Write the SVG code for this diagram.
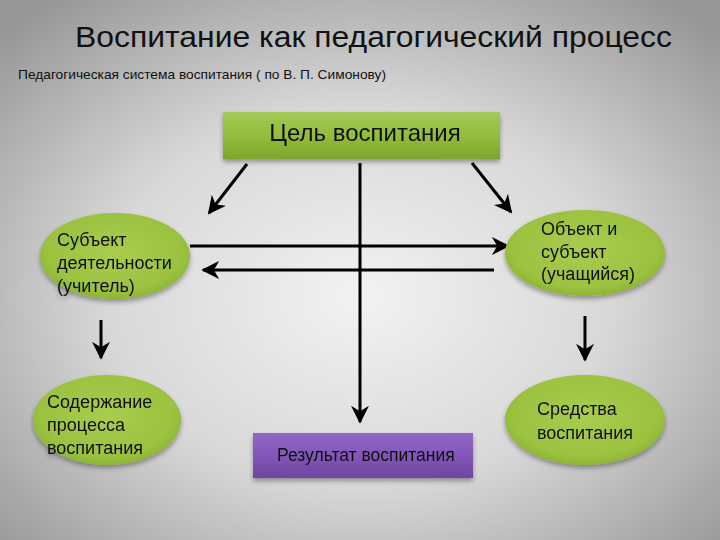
<svg xmlns="http://www.w3.org/2000/svg" width="720" height="540" viewBox="0 0 720 540">
<defs>
<radialGradient id="bg" cx="50%" cy="55%" r="70%">
<stop offset="0" stop-color="#f2f2f2"/>
<stop offset="0.5" stop-color="#d8d8d8"/>
<stop offset="1" stop-color="#969696"/>
</radialGradient>
<radialGradient id="ell" cx="50%" cy="45%" r="60%">
<stop offset="0" stop-color="#a9cc4e"/>
<stop offset="0.75" stop-color="#9cc241"/>
<stop offset="1" stop-color="#86ad2c"/>
</radialGradient>
<linearGradient id="gr" x1="0" y1="0" x2="0" y2="1">
<stop offset="0" stop-color="#a3c956"/>
<stop offset="0.5" stop-color="#93bd3c"/>
<stop offset="1" stop-color="#7ea52c"/>
</linearGradient>
<linearGradient id="pu" x1="0" y1="0" x2="0" y2="1">
<stop offset="0" stop-color="#9168c6"/>
<stop offset="0.5" stop-color="#8256b8"/>
<stop offset="1" stop-color="#6e45a0"/>
</linearGradient>
<filter id="sh" x="-20%" y="-20%" width="140%" height="150%">
<feGaussianBlur in="SourceAlpha" stdDeviation="2.5"/>
<feOffset dx="0" dy="3"/>
<feComponentTransfer><feFuncA type="linear" slope="0.35"/></feComponentTransfer>
<feMerge><feMergeNode/><feMergeNode in="SourceGraphic"/></feMerge>
</filter>
<marker id="ah" viewBox="0 0 10 10" refX="9" refY="5" markerWidth="6" markerHeight="6" markerUnits="strokeWidth" orient="auto">
<path d="M0,0 L10,5 L0,10 L3,5 Z" fill="#000"/>
</marker>
<style>
.t{font-family:"Liberation Sans",Arial,sans-serif;fill:#111}
.ar{stroke:#000;stroke-width:3;fill:none;marker-end:url(#ah)}
</style>
</defs>
<rect width="720" height="540" fill="url(#bg)"/>
<text class="t" x="75" y="47" font-size="30" textLength="597" lengthAdjust="spacingAndGlyphs">Воспитание как педагогический процесс</text>
<text class="t" x="18" y="79" font-size="13" textLength="368" lengthAdjust="spacingAndGlyphs">Педагогическая система воспитания ( по В. П. Симонову)</text>

<g id="connectors">
<line class="ar" x1="247" y1="164" x2="209" y2="213"/>
<line class="ar" x1="472" y1="163" x2="511" y2="212"/>
<line class="ar" x1="360" y1="163" x2="360" y2="422"/>
<line class="ar" x1="190" y1="246" x2="508" y2="246"/>
<line class="ar" x1="494" y1="270" x2="203" y2="270"/>
<line class="ar" x1="101" y1="320" x2="101" y2="358"/>
<line class="ar" x1="585" y1="316" x2="585" y2="360"/>
</g>

<g id="goal" filter="url(#sh)">
<rect x="223" y="112" width="277" height="47" fill="url(#gr)"/>
<text class="t" x="365" y="141" font-size="24" text-anchor="middle">Цель воспитания</text>
</g>

<g id="subject" filter="url(#sh)">
<ellipse cx="115" cy="256" rx="75" ry="43" fill="url(#ell)"/>
<text class="t" font-size="18"><tspan x="57" y="246">Субъект</tspan><tspan x="57" y="269">деятельности</tspan><tspan x="57" y="292">(учитель)</tspan></text>
</g>

<g id="object" filter="url(#sh)">
<ellipse cx="585" cy="253" rx="80" ry="43" fill="url(#ell)"/>
<text class="t" font-size="18"><tspan x="541" y="235">Объект и</tspan><tspan x="541" y="258">субъект</tspan><tspan x="541" y="280">(учащийся)</tspan></text>
</g>

<g id="content" filter="url(#sh)">
<ellipse cx="107" cy="420" rx="74" ry="45" fill="url(#ell)"/>
<text class="t" font-size="18"><tspan x="47" y="408">Содержание</tspan><tspan x="47" y="431">процесса</tspan><tspan x="47" y="454">воспитания</tspan></text>
</g>

<g id="means" filter="url(#sh)">
<ellipse cx="585" cy="420" rx="80" ry="45" fill="url(#ell)"/>
<text class="t" font-size="18"><tspan x="537" y="415">Средства</tspan><tspan x="537" y="439">воспитания</tspan></text>
</g>

<g id="result" filter="url(#sh)">
<rect x="253" y="433" width="220" height="45" fill="url(#pu)"/>
<text class="t" x="277" y="461" font-size="17.5" fill="#1a1028">Результат воспитания</text>
</g>
</svg>
